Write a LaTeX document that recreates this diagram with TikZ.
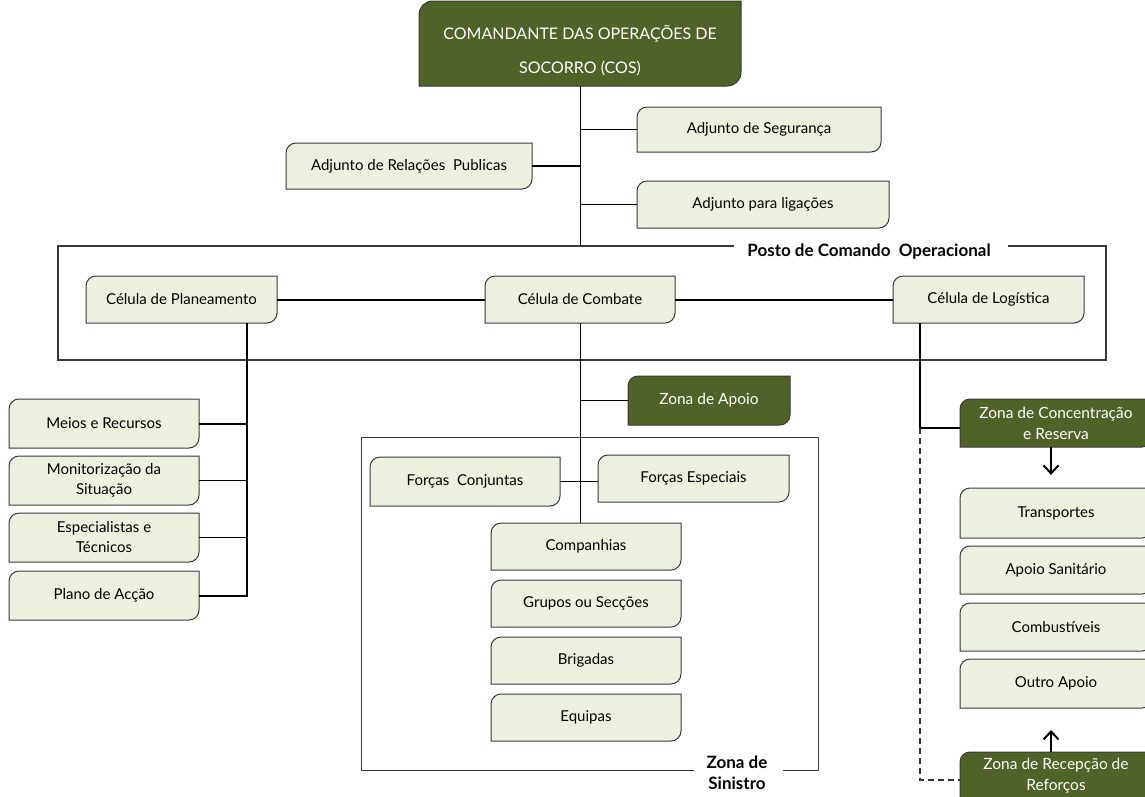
\documentclass[tikz,border=0pt]{standalone}
\usepackage{fontspec}
\setmainfont{Lato}
\usetikzlibrary{arrows.meta,calc}
\definecolor{dkgreen}{HTML}{4F6228}
\definecolor{ltgreen}{HTML}{EBF1DE}
\definecolor{edge}{HTML}{3A3A3A}
\tikzset{
  lbox/.style={fill=ltgreen, draw=edge, line width=1pt},
  dbox/.style={fill=dkgreen, draw=edge, line width=1pt},
  ltxt/.style={font=\fontsize{15}{20}\selectfont, text=black, align=center},
  dtxt/.style={font=\fontsize{15.5}{21}\selectfont, text=white, align=center},
  cn/.style={draw=black, line width=1pt},
  cnk/.style={draw=black, line width=2pt},
  frame/.style={draw=edge, line width=1.2pt},
  dsh/.style={draw=black!80, line width=1.2pt, dash pattern=on 6pt off 4pt},
  arr/.style={draw=black, line width=2pt, -{Straight Barb[length=8pt,width=15pt,line width=2pt]}},
  lbl/.style={font=\bfseries\fontsize{17}{21}\selectfont, text=black, align=center}
}
% name, x1, y1, x2, y2, box style, text style, text
\newcommand\obox[8]{%
  \path[#6] (#2,#3+10) .. controls (#2,#3+4.5) and (#2+4.5,#3) .. (#2+10,#3) -- (#4,#3) -- (#4,#5-10)
     .. controls (#4,#5-4.5) and (#4-4.5,#5) .. (#4-10,#5) -- (#2,#5) -- cycle;
  \node[#7, minimum width={(#4-#2)*1pt}, minimum height={(#5-#3)*1pt}, inner sep=0pt]
     (#1) at ({(#2+#4)/2},{(#3+#5)/2}) {#8};
}
\begin{document}
\begin{tikzpicture}[x=1pt,y=-1pt]
\useasboundingbox (0,0) rectangle (1145,796);
\clip (0,0) rectangle (1145,796);
\fill[white] (0,0) rectangle (1145,796);

% top commander
\path[dbox] (419,15) .. controls (419,7) and (425,1) .. (433,1) -- (741,1) -- (741,72)
   .. controls (741,80) and (735,86) .. (727,86) -- (419,86) -- cycle;
\node[font=\fontsize{16}{34}\selectfont, text=white, align=center,
      minimum width=322pt, minimum height=85pt, inner sep=0pt]
   (cos) at (580,51) {COMANDANTE DAS OPERAÇÕES DE\\SOCORRO (COS)};

% adjuntos
\obox{seg}{637}{107}{881}{152}{lbox}{ltxt}{Adjunto de Segurança}
\obox{rel}{286}{143}{532}{189}{lbox}{ltxt}{Adjunto de Relações\ \ Publicas}
\obox{lig}{637}{181}{889}{228}{lbox}{ltxt}{Adjunto para ligações}

\coordinate (stem) at (580,246);
\draw[cn] (stem |- 0,86) -- (stem);
\draw[cn] (seg.west) -- (seg.west -| stem);
\draw[cnk] (rel.east) -- (rel.east -| stem);
\draw[cn] (lig.west) -- (lig.west -| stem);

% Posto de Comando frame
\node[lbl] (posto) at (869,252) {Posto de Comando\ \ Operacional};
\draw[frame] (734,246) -- (58,246) -- (58,360) -- (1106,360) -- (1106,246) -- (1008,246);

% celulas
\obox{plan}{86}{276}{277}{323}{lbox}{ltxt}{Célula de Planeamento}
\obox{comb}{485}{276}{675}{323}{lbox}{ltxt}{Célula de Combate}
\obox{log}{893}{276}{1084}{323}{lbox}{ltxt}{Célula de Logística}
\draw[cnk] (plan.east) -- (comb.west);
\draw[cnk] (comb.east) -- (log.west);

% planeamento branch
\obox{meios}{9}{399}{199}{448}{lbox}{ltxt}{Meios e Recursos}
\obox{monit}{9}{456}{199}{505}{lbox}{ltxt}{Monitorização da\\Situação}
\obox{espec}{9}{513}{199}{562}{lbox}{ltxt}{Especialistas e\\Técnicos}
\obox{plano}{9}{571}{199}{620}{lbox}{ltxt}{Plano de Acção}
\coordinate (plb) at (247,0);
\draw[cnk] (plan.south -| plb) -- (plb |- plano.east) -- (plano.east);
\draw[cnk] (meios.east) -- (meios.east -| plb);
\draw[cn] (monit.east) -- (monit.east -| plb);
\draw[cn] (espec.east) -- (espec.east -| plb);

% combate branch
\obox{apoio}{628}{376}{790}{425}{dbox}{dtxt}{Zona de Apoio}
\node[lbl] (sin) at (737,773) {Zona de\\Sinistro};
\draw[cn, draw=edge] (694,770) -- (361,770) -- (361,437) -- (818,437) -- (818,770) -- (783,770);
\obox{fc}{370}{457}{560}{506}{lbox}{ltxt}{Forças\ \ Conjuntas}
\obox{fe}{598}{455}{789}{502}{lbox}{ltxt}{Forças Especiais}
\obox{comp}{491}{523}{681}{570}{lbox}{ltxt}{Companhias}
\obox{grup}{491}{580}{681}{627}{lbox}{ltxt}{Grupos ou Secções}
\obox{brig}{491}{637}{681}{684}{lbox}{ltxt}{Brigadas}
\obox{equi}{491}{694}{681}{741}{lbox}{ltxt}{Equipas}
\draw[cn] (comb.south) -- (comb.south |- comp.north);
\draw[cn] (apoio.west) -- (apoio.west -| comb.south);
\draw[cn] (fc.east) -- (fc.east -| fe.west);

% logistica branch
\obox{conc}{960}{399}{1152}{447}{dbox}{dtxt}{Zona de Concentração\\e Reserva}
\obox{trans}{960}{488}{1152}{538}{lbox}{ltxt}{Transportes}
\obox{sanit}{960}{546}{1152}{594}{lbox}{ltxt}{Apoio Sanitário}
\obox{comb2}{960}{603}{1152}{651}{lbox}{ltxt}{Combustíveis}
\obox{outro}{960}{659}{1152}{708}{lbox}{ltxt}{Outro Apoio}
\obox{recep}{960}{752}{1152}{800}{dbox}{dtxt}{Zona de Recepção de\\Reforços}
\coordinate (lgv) at (920,428);
\coordinate (dsb) at (920,780);
\draw[cnk] (log.south -| lgv) -- (lgv) -- (lgv -| conc.west);
\draw[dsh] (lgv) -- (dsb) -- (dsb -| recep.west);
\coordinate (ax) at (1051,0);
\draw[arr] (conc.south -| ax) -- ($(conc.south -| ax)!0.68!(trans.north -| ax)$);
\draw[arr] (recep.north -| ax) -- ($(recep.north -| ax)!0.5!(outro.south -| ax)$);
\end{tikzpicture}
\end{document}
